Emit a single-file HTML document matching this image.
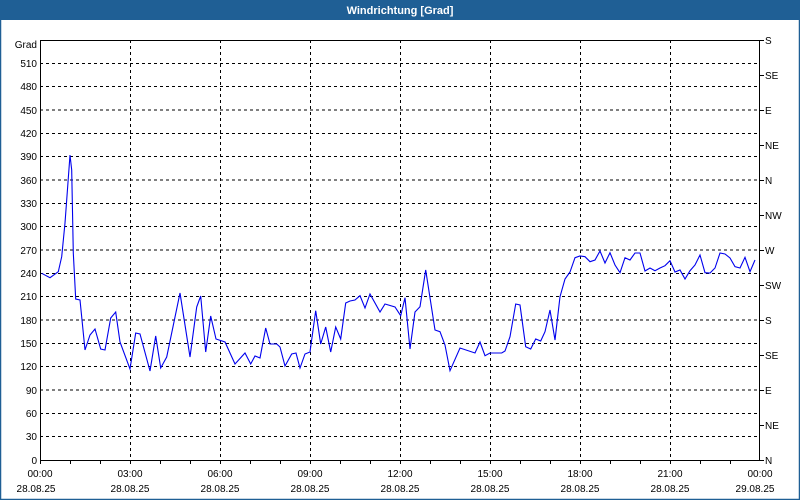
<!DOCTYPE html>
<html><head><meta charset="utf-8"><style>
body{margin:0;background:#fff}
svg{display:block;font-family:"Liberation Sans",sans-serif;font-size:10px}
</style></head><body>
<svg width="800" height="500" xmlns="http://www.w3.org/2000/svg">
<rect x="0" y="0" width="800" height="500" fill="#fff"/>
<rect x="0.5" y="0.5" width="799" height="499" fill="none" stroke="#1f5f95" stroke-width="1.5"/>
<rect x="0" y="0" width="800" height="20" fill="#1f5f95"/>
<text x="400" y="14" fill="#fff" font-weight="bold" font-size="11" text-anchor="middle">Windrichtung [Grad]</text>
<g stroke="#000" stroke-dasharray="3,3" stroke-width="1">
<path d="M40 63.5H760M40 86.5H760M40 110H760M40 133.5H760M40 156.5H760M40 180H760M40 203.5H760M40 226.5H760M40 250H760M40 273.5H760M40 296.5H760M40 320H760M40 343.5H760M40 366.5H760M40 390H760M40 413.5H760M40 436.5H760"/>
<path d="M130.5 40V460M220.5 40V460M310.5 40V460M400.5 40V460M490.5 40V460M580.5 40V460M670.5 40V460"/>
</g>
<g stroke="#000" stroke-width="1" fill="none">
<path d="M40.5 40V460.5H759.5V40M40 40.5H760"/>
<path d="M40.5 460v4M70.5 460v4M100.5 460v4M130.5 460v4M160.5 460v4M190.5 460v4M220.5 460v4M250.5 460v4M280.5 460v4M310.5 460v4M340.5 460v4M370.5 460v4M400.5 460v4M430.5 460v4M460.5 460v4M490.5 460v4M520.5 460v4M550.5 460v4M580.5 460v4M610.5 460v4M640.5 460v4M670.5 460v4M700.5 460v4M730.5 460v4"/>
<path d="M760 40.5h4M760 75.5h4M760 110.5h4M760 145.5h4M760 180.5h4M760 215.5h4M760 250.5h4M760 285.5h4M760 320.5h4M760 355.5h4M760 390.5h4M760 425.5h4M760 460.5h4"/>
</g>
<g text-anchor="end" fill="#000">
<text x="37" y="48">Grad</text>
<text x="37" y="67">510</text><text x="37" y="90">480</text><text x="37" y="114">450</text><text x="37" y="137">420</text><text x="37" y="160">390</text><text x="37" y="184">360</text><text x="37" y="207">330</text><text x="37" y="230">300</text><text x="37" y="254">270</text><text x="37" y="277">240</text><text x="37" y="300">210</text><text x="37" y="324">180</text><text x="37" y="347">150</text><text x="37" y="370">120</text><text x="37" y="394">90</text><text x="37" y="417">60</text><text x="37" y="440">30</text><text x="37" y="464">0</text>
</g>
<g fill="#000">
<text x="765" y="44">S</text><text x="765" y="79">SE</text><text x="765" y="114">E</text><text x="765" y="149">NE</text><text x="765" y="184">N</text><text x="765" y="219">NW</text><text x="765" y="254">W</text><text x="765" y="289">SW</text><text x="765" y="324">S</text><text x="765" y="359">SE</text><text x="765" y="394">E</text><text x="765" y="429">NE</text><text x="765" y="464">N</text>
</g>
<g text-anchor="middle" fill="#000">
<text x="40" y="477">00:00</text><text x="130" y="477">03:00</text><text x="220" y="477">06:00</text><text x="310" y="477">09:00</text><text x="400" y="477">12:00</text><text x="490" y="477">15:00</text><text x="580" y="477">18:00</text><text x="670" y="477">21:00</text><text x="760" y="477">00:00</text>
<text x="36" y="492">28.08.25</text><text x="130" y="492">28.08.25</text><text x="220" y="492">28.08.25</text><text x="310" y="492">28.08.25</text><text x="400" y="492">28.08.25</text><text x="490" y="492">28.08.25</text><text x="580" y="492">28.08.25</text><text x="670" y="492">28.08.25</text><text x="755" y="492">29.08.25</text>
</g>
<polyline fill="none" stroke="#0000ee" stroke-width="1.1" points="41.7,273.3 50,277.7 58.3,271.7 61.7,256.7 65,223 66.7,200 70,155 71.7,170 73.3,253 75.7,299 80,300 85,350 90,335 95,329 100.7,349 105,350 110.7,318 115.7,312 120,342 130,369 135.7,333 140,334 150,371 155.7,336 160.7,368 166.7,357 180,293 190,357 196.7,307 200.7,296 205.7,352 210.7,316 216,339 225,342 235,364 245,353 250.7,364 255,356 260,358 265.7,328 270,344 276.7,344 280,347 285,366 291.7,354 296,353 300,368 305,354 310,352 315.7,310.7 320.7,344 325.7,327 330.7,352 335.7,327 340.7,339 345.7,303 350,301 355,300 360,295.7 365,308 370,294 380,312 385,304 395,307 400.7,315.7 405,297.7 410,349 415,312 420,306.7 425.7,270 435,330 440,331.7 445,345 450,370.7 460,348 475,353 480,342 485,355.7 490,353 501.7,353 505,351 510,336.7 515.7,304 520,305 525.7,346.7 530.7,349 535.7,339 540.7,341 545,331.7 550,310 555,340 560,296.7 565,279 570,272 575,257.7 580,256 585,256.7 590,261.7 595,260 600,251 605,263 610,252.7 615,265 620,272.7 625,257.7 630,260 635,253 640,253 645,271 650,268 655,270.7 660,268 665,265.7 670,260.7 675,272 680,270 685,279 690,270.7 695,265 700,255 705,272.7 710,273 715,268 720,253 725,254 730,258 735,266.7 740,268 745,257.3 750,271.7 755,260"/>
</svg>
</body></html>
